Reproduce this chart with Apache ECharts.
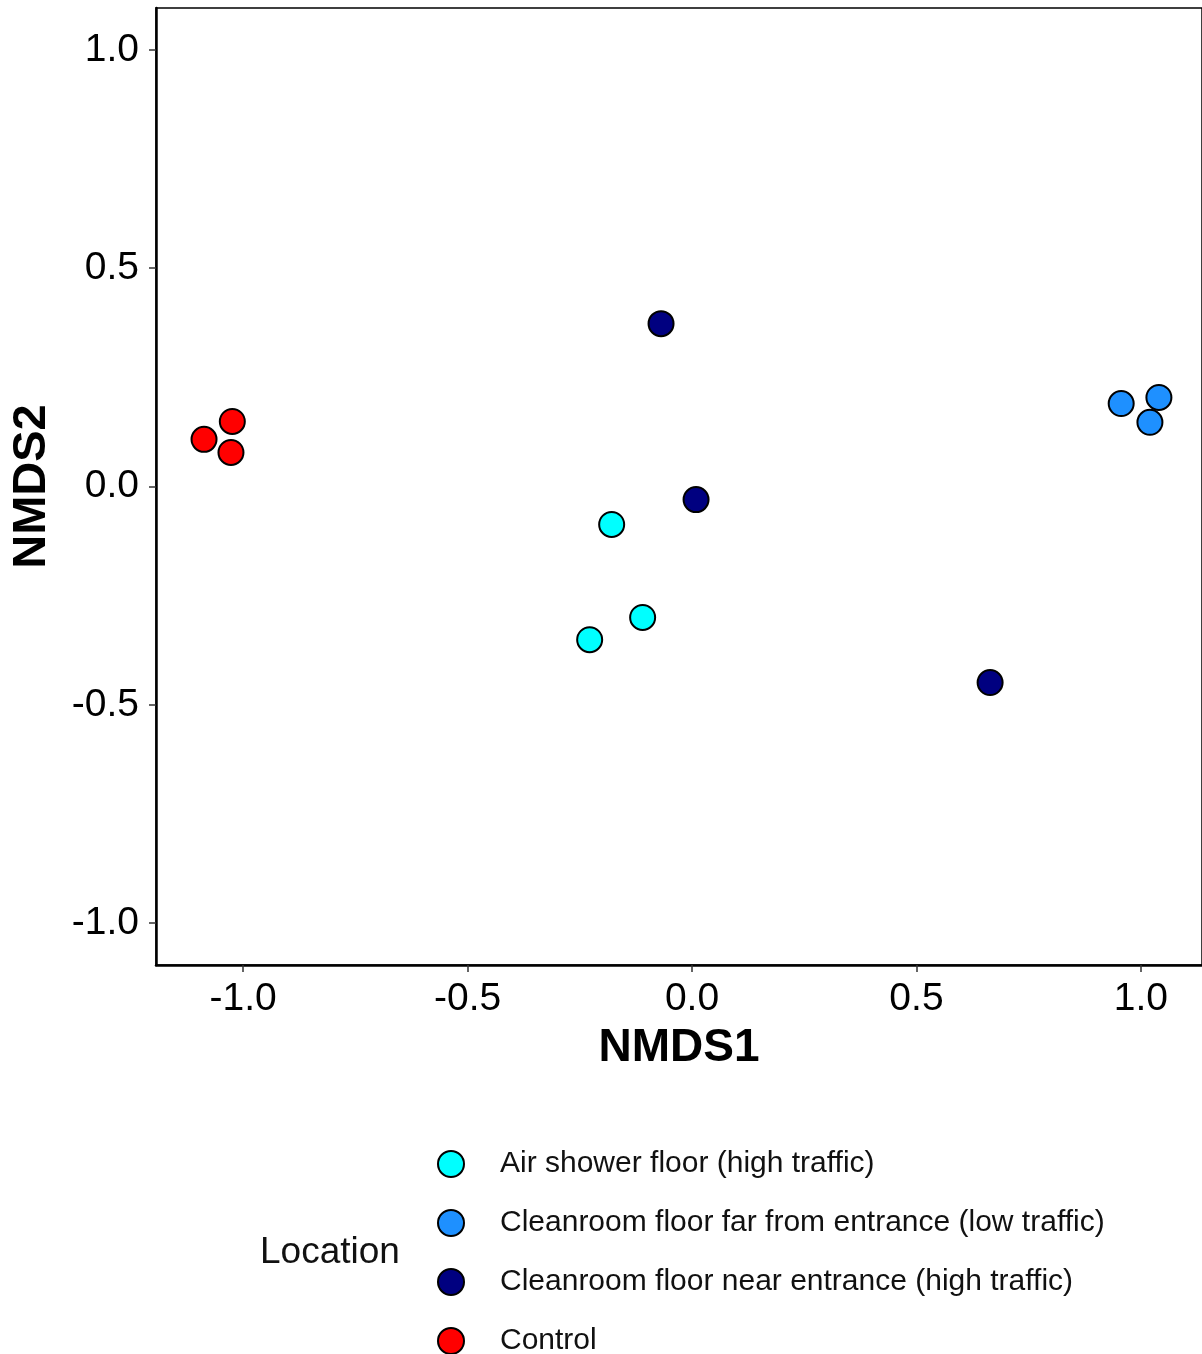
<!DOCTYPE html>
<html>
<head>
<meta charset="utf-8">
<script src="https://cdn.jsdelivr.net/npm/echarts@6/dist/echarts.min.js"></script>
<style>html,body{margin:0;padding:0;background:#fff;}#c{width:1202px;height:1354px;}</style>
</head>
<body>
<div id="c"></div>
<script>
const groups = [
  "Air shower floor (high traffic)",
  "Cleanroom floor far from entrance (low traffic)",
  "Cleanroom floor near entrance (high traffic)",
  "Control"
];
const colors = ["#00FFFF", "#1E90FF", "#000080", "#FF0000"];
const airShower = [[-0.179, -0.087], [-0.110, -0.300], [-0.228, -0.351]];
const cleanFar = [[0.956, 0.190], [1.040, 0.204], [1.020, 0.147]];
const cleanNear = [[-0.069, 0.373], [0.009, -0.030], [0.664, -0.449]];
const control = [[-1.087, 0.108], [-1.024, 0.149], [-1.027, 0.078]];
const xTicks = [-1.0, -0.5, 0.0, 0.5, 1.0];
const yTicks = [-1.0, -0.5, 0.0, 0.5, 1.0];
const seriesData = [airShower, cleanFar, cleanNear, control];

const font = "Liberation Sans, Arial, Helvetica, sans-serif";
const chart = echarts.init(document.getElementById('c'));
chart.setOption({
  animation: false,
  backgroundColor: '#fff',
  textStyle: { fontFamily: font },
  grid: { left: 156, top: 8, right: -3, bottom: 389, show: true, borderColor: '#000', borderWidth: 1.5, backgroundColor: 'transparent' },
  xAxis: {
    type: 'value', min: -1.194, max: 1.136,
    name: 'NMDS1', nameLocation: 'middle', nameGap: 83,
    nameTextStyle: { fontSize: 46, fontWeight: 'bold', color: '#000', fontFamily: font, verticalAlign: 'middle' },
    axisLine: { show: true, onZero: false, lineStyle: { color: '#000', width: 2.5 } },
    axisTick: { show: true, inside: false, customValues: xTicks, length: 7, lineStyle: { color: '#333', width: 1.5 } },
    axisLabel: { customValues: xTicks, margin: 15, fontSize: 39, color: '#000', fontFamily: font,
      formatter: v => v.toFixed(1) },
    splitLine: { show: false }
  },
  yAxis: {
    type: 'value', min: -1.096, max: 1.096,
    name: 'NMDS2', nameLocation: 'middle', nameGap: 124,
    nameTextStyle: { fontSize: 47, fontWeight: 'bold', color: '#000', fontFamily: font, verticalAlign: 'middle' },
    axisLine: { show: true, onZero: false, lineStyle: { color: '#000', width: 2.5 } },
    axisTick: { show: true, inside: false, customValues: yTicks, length: 7, lineStyle: { color: '#333', width: 1.5 } },
    axisLabel: { customValues: yTicks, margin: 17, fontSize: 39, color: '#000', fontFamily: font,
      formatter: v => v.toFixed(1) },
    splitLine: { show: false }
  },
  legend: {
    orient: 'vertical', left: 432, top: 1144, height: 300,
    itemWidth: 26, itemHeight: 26, itemGap: 29,
    icon: 'circle',
    textStyle: { fontSize: 30, color: '#111', fontFamily: font, padding: [0, 0, 0, 31] },
    data: groups
  },
  graphic: [{
    type: 'text', left: 260, top: 1234,
    style: { text: 'Location', fontSize: 37, fill: '#111', fontFamily: font }
  }],
  series: groups.map((g, i) => ({
    name: g, type: 'scatter', data: seriesData[i], symbol: 'circle', symbolSize: 25,
    itemStyle: { color: colors[i], borderColor: '#000', borderWidth: 2, opacity: 1 }
  }))
});
</script>
</body>
</html>
